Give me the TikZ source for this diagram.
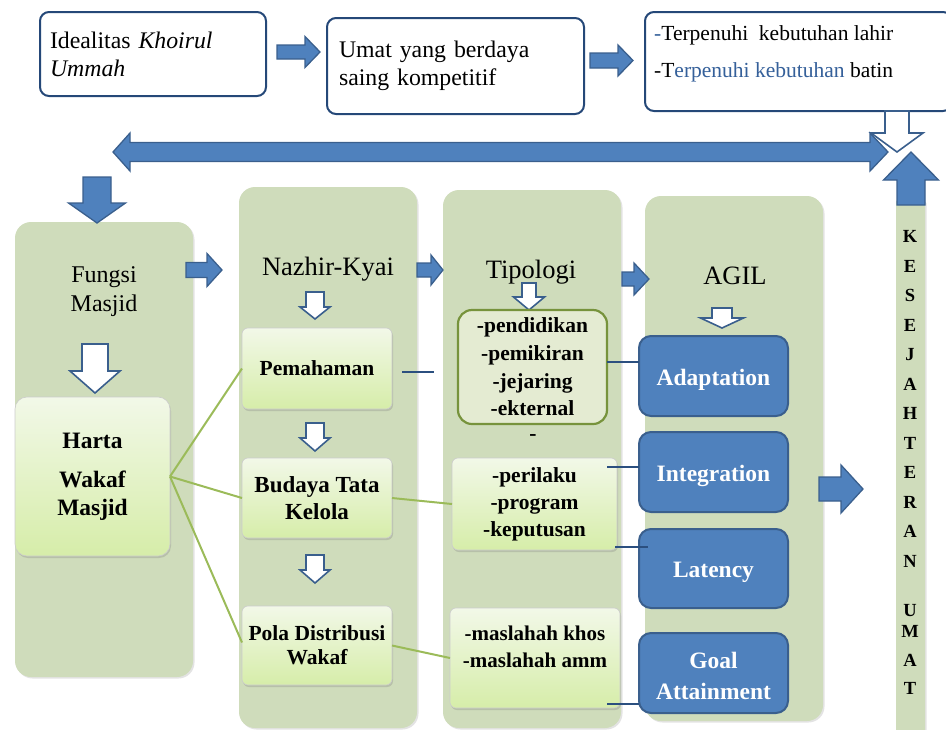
\documentclass[tikz,border=0pt]{standalone}
\usepackage{fontspec}
\setmainfont{Liberation Serif}
\usetikzlibrary{shadows}
\definecolor{navy}{HTML}{254878}
\definecolor{abfill}{HTML}{4F81BD}
\definecolor{abdraw}{HTML}{3A5F8D}
\definecolor{colgreen}{HTML}{CFDCBB}
\definecolor{gtop}{HTML}{F2F8E8}
\definecolor{gbot}{HTML}{D6EDA9}
\definecolor{lgreen}{HTML}{9BBB59}
\definecolor{oliveb}{HTML}{77933C}
\definecolor{pfill}{HTML}{E4EBD2}
\definecolor{tblue}{HTML}{35609A}
\definecolor{lnblue}{HTML}{2B4F7F}
\newcommand\blkR[7]{\draw[#7] ({#1},{#3-#4}) -- ({#6},{#3-#4}) -- ({#6},{#3-#5}) -- ({#2},{#3}) -- ({#6},{#3+#5}) -- ({#6},{#3+#4}) -- ({#1},{#3+#4}) -- cycle;}
\newcommand\blkD[7]{\draw[#7] ({#1-#4},{#2}) -- ({#1+#4},{#2}) -- ({#1+#4},{#6}) -- ({#1+#5},{#6}) -- ({#1},{#3}) -- ({#1-#5},{#6}) -- ({#1-#4},{#6}) -- cycle;}
\begin{document}
\begin{tikzpicture}[x=1pt,y=-1pt,
  topbox/.style={draw=navy, line width=2pt, rounded corners=9pt, fill=white, inner sep=0pt, outer sep=0pt},
  colbox/.style={fill=colgreen, rounded corners=16pt, inner sep=0pt, outer sep=0pt,
     drop shadow={shadow xshift=1.5pt, shadow yshift=-1.5pt, opacity=.22}},
  gbox/.style={top color=gtop, bottom color=gbot, draw=gray!40, line width=.6pt, rounded corners=6pt,
     inner sep=0pt, outer sep=0pt, align=center, drop shadow={shadow xshift=1pt, shadow yshift=-2pt, opacity=.3}},
  bluebox/.style={fill=abfill, draw=abdraw, line width=2pt, rounded corners=12pt, inner sep=0pt, outer sep=0pt,
     minimum width=149pt},
  bluetext/.style={text=white, align=center, inner sep=0pt, yshift=-4pt, font=\fontsize{23.5}{31}\selectfont\bfseries},
  blkarrow/.style={fill=abfill, draw=abdraw, line width=1.3pt},
  whtarrow/.style={fill=white, draw=abdraw, line width=1.6pt},
  title/.style={inner sep=0pt, align=center},
  lgline/.style={draw=lgreen, line width=2pt},
  dbline/.style={draw=lnblue, line width=2pt},
]
\useasboundingbox (0,0) rectangle (946,729);
\clip (0,0) rectangle (946,729);

% ---------- top row ----------
\node[topbox, minimum width=226pt, minimum height=84pt, text width=206pt, align=left,
      font=\fontsize{23.8}{28}\selectfont] (b1) at (153,54) {Idealitas \textit{Khoirul}\\\textit{Ummah}};
\node[topbox, minimum width=257pt, minimum height=96pt, text width=233pt, align=left,
      font=\fontsize{23.8}{28}\selectfont] (b2) at (455.5,66) {Umat yang berdaya\\saing kompetitif};
\node[topbox, minimum width=307pt, minimum height=99pt] (b3) at (798.5,61.5) {};
\node[inner sep=0pt, anchor=north west, align=left, font=\fontsize{21.5}{37}\selectfont] (t3) at (654,25)
  {\textcolor{tblue}{-}Terpenuhi\ \ kebutuhan lahir\\-T\textcolor{tblue}{erpenuhi kebutuhan} batin};

\blkR{277}{320}{52}{7}{15.5}{305}{blkarrow}
\blkR{590}{633}{60.5}{7.5}{15.5}{618}{blkarrow}

% white down arrow from right box
\blkD{897}{111}{152}{12}{26}{133}{whtarrow}
% big double arrow
\draw[blkarrow] (113,152) -- (130,133) -- (130,142.5) -- (870,142.5) -- (870,133) -- (888,152)
   -- (870,171) -- (870,161.5) -- (130,161.5) -- (130,171) -- cycle;

% ---------- columns ----------
\node[colbox, minimum width=178pt, minimum height=455pt] (c1) at (104,449.5) {};
\node[colbox, minimum width=178pt, minimum height=541pt] (c2) at (328,457.5) {};
\node[colbox, minimum width=178pt, minimum height=538pt] (c3) at (532,459) {};
\node[colbox, minimum width=178pt, minimum height=525pt] (c4) at (734,458.5) {};
\node[fill=colgreen, rounded corners=2pt, minimum width=29pt, minimum height=540pt, inner sep=0pt,
      drop shadow={shadow xshift=1.5pt, shadow yshift=-1.5pt, opacity=.22}] (kbar) at (910.5,470) {};

% up arrow on the bar
\blkD{911}{205}{152}{14}{27.5}{180}{blkarrow}
% down arrow into column 1
\blkD{97}{177}{223}{14}{28.5}{203}{blkarrow}

% titles
\node[title, font=\fontsize{24}{29}\selectfont] (tf) at (104,291.5) {Fungsi\\Masjid};
\node[title, font=\fontsize{26.5}{30}\selectfont] (tn) at (328,269) {Nazhir-Kyai};
\node[title, font=\fontsize{26.5}{30}\selectfont] (tt) at (531,272) {Tipologi};
\node[title, font=\fontsize{26.5}{30}\selectfont] (ta) at (735,276) {AGIL};

% arrows between columns
\blkR{186}{222}{270}{7.5}{16.5}{207}{blkarrow}
\blkR{417}{443}{270}{7}{15}{431}{blkarrow}
\blkR{622}{649}{279}{7}{16}{634}{blkarrow}
\blkR{819}{863}{489}{12}{24}{841}{blkarrow}

% white arrows
\blkD{95}{344}{393}{13}{25}{371}{whtarrow}
\blkD{315}{292}{319}{9}{15}{307}{whtarrow}
\blkD{315}{423}{451}{9}{15}{438}{whtarrow}
\blkD{315}{555}{583}{9}{15}{570}{whtarrow}
\blkD{529}{283}{310}{7}{15.5}{297}{whtarrow}
\blkD{722}{308}{328}{10}{21.5}{318}{whtarrow}

% ---------- boxes ----------
\node[gbox, minimum width=155pt, minimum height=159pt, rounded corners=12pt,
      font=\fontsize{23.5}{28}\selectfont\bfseries] (harta) at (92.5,476.5) {Harta\\[11pt]Wakaf\\Masjid};
\node[gbox, minimum width=150pt, minimum height=81pt, font=\fontsize{21.5}{26}\selectfont\bfseries] (pemah) at (317,368.5) {Pemahaman};
\node[gbox, minimum width=150pt, minimum height=80pt, font=\fontsize{23}{27}\selectfont\bfseries] (budaya) at (317,498) {Budaya Tata\\Kelola};
\node[gbox, minimum width=150pt, minimum height=79pt, font=\fontsize{21.5}{24}\selectfont\bfseries] (pola) at (317,645.5) {Pola Distribusi\\Wakaf};

\node[fill=pfill, draw=oliveb, line width=2.2pt, rounded corners=14pt, minimum width=149pt, minimum height=114pt,
      inner sep=0pt, outer sep=0pt, align=center, font=\fontsize{21.5}{27.7}\selectfont\bfseries] (pend) at (532.5,367)
      {-pendidikan\\-pemikiran\\-jejaring\\-ekternal};
\node[title, font=\fontsize{21.5}{26}\selectfont\bfseries] (dash) at (533,438) {-};
\node[gbox, minimum width=165pt, minimum height=92pt, font=\fontsize{21.5}{27}\selectfont\bfseries] (peril) at (534.5,504)
      {-perilaku\\-program\\-keputusan};
\node[gbox, minimum width=170pt, minimum height=100pt] (masl) at (535,658) {};
\node[title, font=\fontsize{21}{27}\selectfont\bfseries] (maslt) at (535,646.5) {-maslahah khos\\-maslahah amm};

\node[bluebox, minimum height=80pt] (adapt) at (713.5,376) {};
\node[bluetext] (adaptt) at (adapt.center) {Adaptation};
\node[bluebox, minimum height=80pt] (integ) at (713.5,472) {};
\node[bluetext] (integt) at (integ.center) {Integration};
\node[bluebox, minimum height=79pt] (laten) at (713.5,568.5) {};
\node[bluetext] (latent) at (laten.center) {Latency};
\node[bluebox, minimum height=80pt] (goal) at (713.5,673) {};
\node[bluetext, yshift=1pt] (goalt) at (goal.center) {Goal\\Attainment};

% ---------- connectors ----------
\draw[lgline] (harta.east) -- (pemah.west);
\draw[lgline] (harta.east) -- (budaya.west);
\draw[lgline] (harta.east) -- ([yshift=3pt]pola.west);
\draw[lgline] (budaya.east) -- (peril.west);
\draw[lgline] (pola.east) -- (masl.west);

\coordinate (pa) at (402,372);
\coordinate (pb) at (434,372);
\draw[dbline] (pa) -- (pb);
\draw[dbline] ([yshift=5pt]pend.east) -- ([yshift=14pt]adapt.west);
\draw[dbline] ([xshift=-10pt,yshift=37pt]peril.east) -- ([yshift=5pt]integ.west);
\draw[dbline] ([xshift=-2pt,yshift=-43pt]peril.east) -- ([xshift=9pt,yshift=21.5pt]laten.west);
\draw[dbline] ([xshift=-13pt,yshift=-46pt]masl.east) -- ([yshift=-31pt]goal.west);

% vertical text
\node[inner sep=0pt, anchor=north, align=center, font=\fontsize{18.5}{29.5}\selectfont\bfseries] (kes) at (910,230.5)
  {K\\E\\S\\E\\J\\A\\H\\T\\E\\R\\A\\N};
\node[inner sep=0pt, anchor=north, align=center, font=\fontsize{18.5}{28.5}\selectfont\bfseries] (umat) at (910,604)
  {U\\[-7pt]M\\A\\T};
\end{tikzpicture}
\end{document}
